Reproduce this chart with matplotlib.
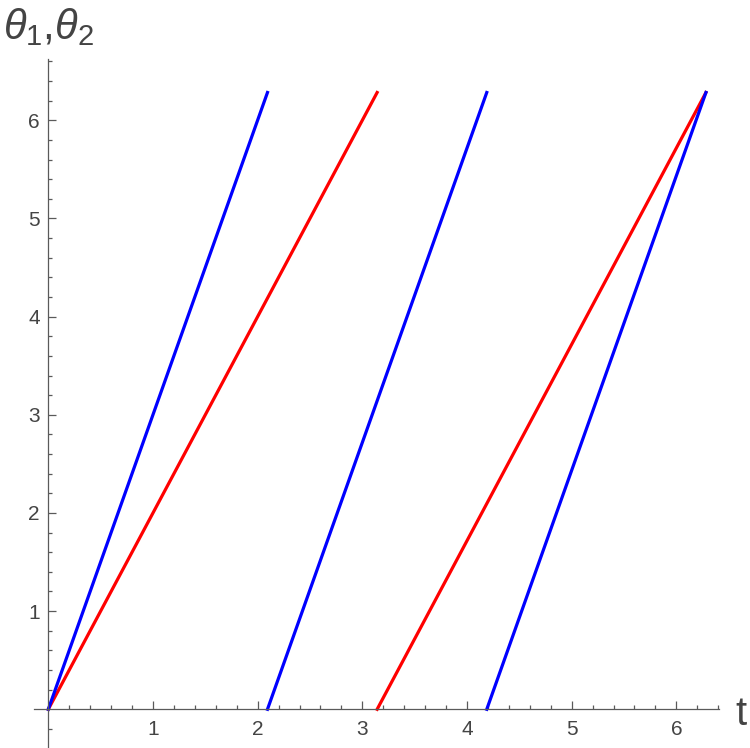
import numpy as np
import matplotlib
matplotlib.use('Agg')
import matplotlib.pyplot as plt

# segment end points (theta1 = 3t mod 2pi, theta2 = 2t mod 2pi)
blue_t = [[0.0, 2.094], [2.094, 4.189], [4.189, 6.283]]
blue_theta = [[0.0, 6.283], [0.0, 6.283], [0.0, 6.283]]
red_t = [[0.0, 3.1416], [3.1416, 6.283]]
red_theta = [[0.0, 6.283], [0.0, 6.283]]

x_labels = ['1', '2', '3', '4', '5', '6']
y_labels = ['1', '2', '3', '4', '5', '6']

plt.rcParams['mathtext.fontset'] = 'custom'
plt.rcParams['mathtext.it'] = 'Liberation Sans:italic'
plt.rcParams['mathtext.rm'] = 'Liberation Sans'
plt.rcParams['mathtext.sf'] = 'Liberation Sans'

W, H = 750, 748
fig = plt.figure(figsize=(W / 100, H / 100), dpi=100)
ax = fig.add_axes([0, 0, 1, 1])

# pixel mapping of the reference
x0_px, y0_px = 48.3, 709.3
sx, sy = 104.67, 98.17
ax.set_xlim((0 - x0_px) / sx, (W - x0_px) / sx)
ax.set_ylim((y0_px - H) / sy, y0_px / sy)

for t, th in zip(red_t, red_theta):
    ax.plot(t, th, color='#ff0000', lw=2.3, solid_capstyle='projecting')
for t, th in zip(blue_t, blue_theta):
    ax.plot(t, th, color='#0000ff', lw=2.3, solid_capstyle='projecting')

axis_col = '#5a5a5a'
for s in ['top', 'right']:
    ax.spines[s].set_visible(False)
ax.spines['left'].set_position(('data', 0))
ax.spines['bottom'].set_position(('data', 0))
ax.spines['left'].set_bounds(-0.40, 6.62)
ax.spines['bottom'].set_bounds(-0.134, 6.41)
for s in ['left', 'bottom']:
    ax.spines[s].set_color(axis_col)
    ax.spines[s].set_linewidth(0.9)

ax.set_xticks(range(1, 7))
ax.set_xticklabels(x_labels)
ax.set_yticks(range(1, 7))
ax.set_yticklabels(y_labels)
xm = [v for v in np.round(np.arange(0.2, 6.41, 0.2), 1) if v % 1 != 0]
ym = [v for v in np.round(np.arange(-0.2, 6.61, 0.2), 1) if v % 1 != 0]
ax.set_xticks(xm, minor=True)
ax.set_yticks(ym, minor=True)

ax.tick_params(which='both', direction='in', color=axis_col, width=0.9,
               labelcolor='#444444', labelsize=15)
ax.tick_params(which='major', length=5.5)
ax.tick_params(which='minor', length=3)
ax.tick_params(axis='x', pad=8)
ax.tick_params(axis='y', pad=6)
for lab in ax.get_xticklabels() + ax.get_yticklabels():
    lab.set_fontfamily('Liberation Sans')

fig.text(3 / W, 1 - 39 / H, r'$\theta_1{,}\theta_2$', fontsize=30, color='#444444',
         ha='left', va='baseline')
fig.text(741 / W, 1 - 725 / H, 't', fontsize=29, color='#444444',
         family='Liberation Sans', ha='center', va='baseline')

fig.savefig('out.png', dpi=100)
